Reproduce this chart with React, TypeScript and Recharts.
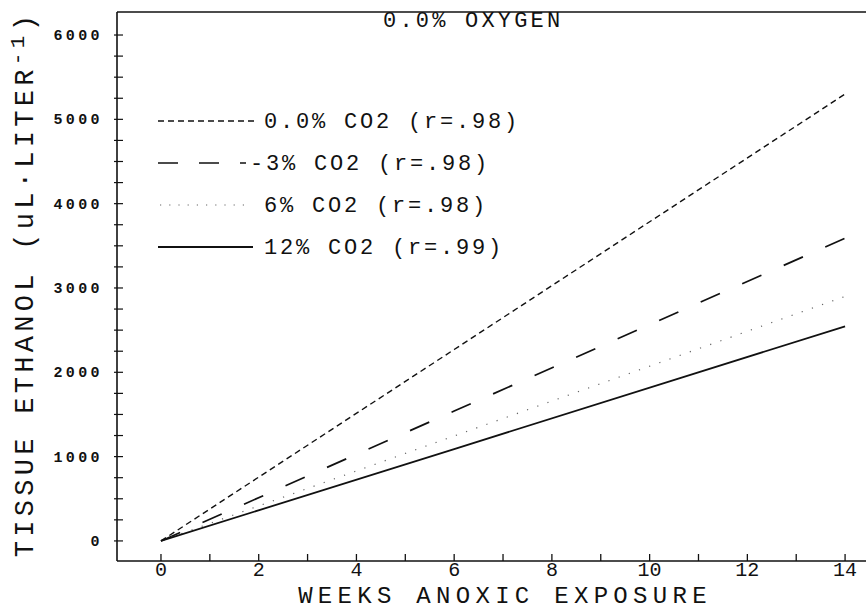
import { LineChart, Line, XAxis, YAxis, Legend, ReferenceLine } from 'recharts';

// readings from the plot (weeks vs tissue ethanol, uL/L)
const weeks = [0, 6, 14];
const co2_0 = [0, 2270, 5300];
const co2_3 = [0, 1540, 3590];
const co2_6 = [0, 1245, 2900];
const co2_12 = [0, 1090, 2545];

const xTicks = [0, 1, 2, 3, 4, 5, 6, 7, 8, 9, 10, 11, 12, 13, 14];
const yTicks = [
  0, 250, 500, 750, 1000, 1250, 1500, 1750, 2000, 2250, 2500, 2750, 3000,
  3250, 3500, 3750, 4000, 4250, 4500, 4750, 5000, 5250, 5500, 5750, 6000,
];

const TITLE = '0.0% OXYGEN';
const X_TITLE = 'WEEKS ANOXIC EXPOSURE';

const FONT = '"Liberation Mono", "DejaVu Sans Mono", monospace';
const INK = '#111';

const W = 870;
const H = 611;
const AXIS_X = 117;
const AXIS_Y = 561;
const X_DOMAIN = [-0.9, 14.51];
const Y_DOMAIN = [-238, 6273];

const series = [
  { key: 'c0', name: '0.0% CO2 (r=.98)', values: co2_0, dash: '6 4', width: 1.4, color: INK, sample: [158, 256], sampleDash: '6 4' },
  { key: 'c3', name: '-3% CO2 (r=.98)', values: co2_3, dash: '21 24.4', width: 1.7, color: INK, sample: [158, 246], sampleDash: '20 21' },
  { key: 'c6', name: '6% CO2 (r=.98)', values: co2_6, dash: '1.2 9.6', width: 1.2, color: '#666', sample: [160, 246], sampleDash: '1.2 8' },
  { key: 'c12', name: '12% CO2 (r=.99)', values: co2_12, dash: undefined, width: 1.8, color: INK, sample: [158, 253], sampleDash: undefined },
];

const legendRows = [121, 163, 205, 247];

function XTick(props: any) {
  const { x, payload } = props;
  const v = payload.value;
  return (
    <g>
      <line x1={x} x2={x} y1={AXIS_Y} y2={AXIS_Y - 7} stroke={INK} strokeWidth={1.3} />
      {v % 2 === 0 && (
        <text x={x} y={576} textAnchor="middle" fontFamily={FONT} fontSize={20} fill={INK}>
          {v}
        </text>
      )}
    </g>
  );
}

function YTick(props: any) {
  const { y, payload } = props;
  const v = payload.value;
  return (
    <g>
      <line x1={AXIS_X - 3} x2={AXIS_X + 6} y1={y} y2={y} stroke={INK} strokeWidth={1.2} />
      {v % 1000 === 0 && (
        <text
          x={103}
          y={y + 5}
          textAnchor="end"
          fontFamily={FONT}
          fontSize={15}
          fontWeight="bold"
          letterSpacing={3.4}
          fill={INK}
        >
          {v}
        </text>
      )}
    </g>
  );
}

function YTitle() {
  return (
    <text
      transform="translate(33, 284) rotate(-90)"
      textAnchor="middle"
      fontFamily={FONT}
      fontSize={27}
      letterSpacing={4.3}
      fill={INK}
    >
      <tspan>TISSUE ETHANOL (uL·LITER</tspan>
      <tspan dy={-9} fontSize={21}>-1</tspan>
      <tspan dy={9}>)</tspan>
    </text>
  );
}

function XTitle() {
  return (
    <text x={505} y={603} textAnchor="middle" fontFamily={FONT} fontSize={24} letterSpacing={5.3} fill={INK}>
      {X_TITLE}
    </text>
  );
}

function LegendBox() {
  return (
    <svg width={W} height={300} style={{ display: 'block' }}>
      <text x={383} y={27} fontFamily={FONT} fontSize={22} letterSpacing={3.2} fill={INK}>
        {TITLE}
      </text>
      {series.map((s, i) => (
        <g key={s.key}>
          <line
            x1={s.sample[0]}
            x2={s.sample[1]}
            y1={legendRows[i]}
            y2={legendRows[i]}
            stroke={s.color}
            strokeWidth={s.width}
            strokeDasharray={s.sampleDash}
          />
          <text x={i === 1 ? 250 : 264} y={legendRows[i] + 7} fontFamily={FONT} fontSize={22} letterSpacing={2.8} fill={INK}>
            {s.name}
          </text>
        </g>
      ))}
    </svg>
  );
}

export default function App() {
  return (
    <div style={{ position: 'absolute', left: 0, top: 0, width: W, height: H, background: '#fff', overflow: 'hidden' }}>
      <LineChart width={W} height={H} margin={{ top: 12, right: 0, bottom: 0, left: 0 }}>
        <XAxis
          type="number"
          dataKey="week"
          domain={X_DOMAIN}
          ticks={xTicks}
          interval={0}
          allowDataOverflow
          height={50}
          tickLine={false}
          tick={<XTick />}
          axisLine={{ stroke: INK, strokeWidth: 1.6 }}
          label={<XTitle />}
        />
        <YAxis
          type="number"
          domain={Y_DOMAIN}
          ticks={yTicks}
          interval={0}
          allowDataOverflow
          width={AXIS_X}
          tickLine={false}
          tick={<YTick />}
          axisLine={{ stroke: INK, strokeWidth: 1.6 }}
          label={<YTitle />}
        />
        <ReferenceLine y={Y_DOMAIN[1]} stroke={INK} strokeWidth={1.6} ifOverflow="visible" />
        <Legend
          layout="vertical"
          align="center"
          verticalAlign="middle"
          wrapperStyle={{ left: 0, top: 0, width: W, height: 300 }}
          content={() => <LegendBox />}
        />
        {series.map((s) => (
          <Line
            key={s.key}
            name={s.name}
            data={weeks.map((w, i) => ({ week: w, value: s.values[i] }))}
            dataKey="value"
            type="linear"
            stroke={s.color}
            strokeWidth={s.width}
            strokeDasharray={s.dash}
            dot={false}
            activeDot={false}
            isAnimationActive={false}
          />
        ))}
      </LineChart>
    </div>
  );
}
